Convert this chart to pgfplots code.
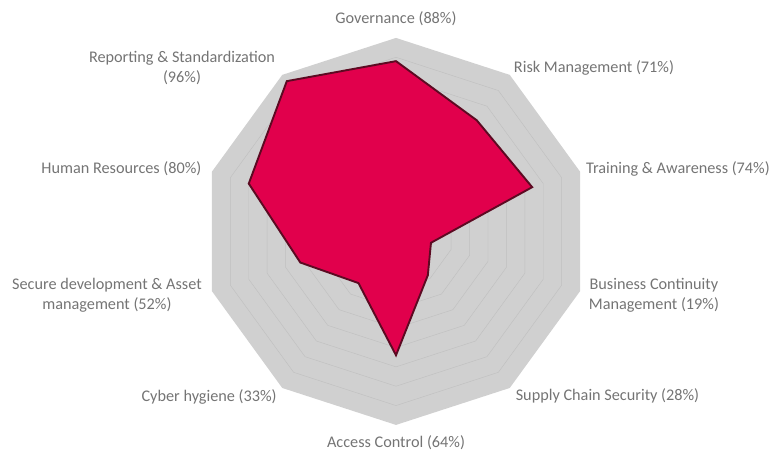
\documentclass[border=0pt]{standalone}
\usepackage{pgfplots}
\pgfplotsset{compat=1.18}
\usepackage{fontspec}
\setmainfont{Carlito}
\definecolor{bggray}{HTML}{D0D0D0}
\definecolor{ringgray}{HTML}{C0C0C0}
\definecolor{radred}{HTML}{E1004C}
\definecolor{radedge}{HTML}{5C0A22}
\definecolor{labgray}{HTML}{747474}
\tikzset{lab/.style={font=\fontsize{16.3}{20}\selectfont, text=labgray, align=center, inner sep=0pt}}
\begin{document}
\begin{tikzpicture}
\begin{axis}[
  x=1.935bp, y=1.935bp,
  xmin=-204.65, xmax=195.87, ymin=-113.95, ymax=119.6,
  hide axis, clip=false, enlargelimits=false,
]
\draw[draw=none] (rel axis cs:0,0) rectangle (rel axis cs:1,1);
% background decagon (100%)
\addplot[draw=none, fill=bggray, data cs=polar] coordinates {
  (90,100) (54,100) (18,100) (-18,100) (-54,100) (-90,100) (-126,100) (-162,100) (162,100) (126,100)} -- cycle;
% grid rings
\pgfplotsinvokeforeach{10,20,30,40,50,60,70,80,90}{
  \addplot[ringgray, line width=0.45bp, data cs=polar] coordinates {
    (90,#1) (54,#1) (18,#1) (-18,#1) (-54,#1) (-90,#1) (-126,#1) (-162,#1) (162,#1) (126,#1)} -- cycle;
}
% data
\addplot[draw=radedge, line width=1.9bp, fill=radred, line join=miter, data cs=polar] coordinates {
  (90,88) (54,71) (18,74) (-18,19) (-54,28) (-90,64) (-126,33) (-162,52) (162,80) (126,96)} -- cycle;
% labels
\node[lab] at (axis cs:0,109.8) {Governance (88\%)};
\node[lab] at (axis cs:102.3,84.5) {Risk Management (71\%)};
\node[lab] at (axis cs:145.7,32.3) {Training \& Awareness (74\%)};
\node[lab] at (axis cs:133.3,-32.8) {Business Continuity\\Management (19\%)};
\node[lab] at (axis cs:109.3,-85) {Supply Chain Security (28\%)};
\node[lab] at (axis cs:0,-109.3) {Access Control (64\%)};
\node[lab] at (axis cs:-96.6,-85.5) {Cyber hygiene (33\%)};
\node[lab] at (axis cs:-149.4,-32.8) {Secure development \& Asset\\management (52\%)};
\node[lab] at (axis cs:-141.9,32.3) {Human Resources (80\%)};
\node[lab] at (axis cs:-110.6,84.5) {Reporting \& Standardization\\(96\%)};
\end{axis}
\end{tikzpicture}
\end{document}
